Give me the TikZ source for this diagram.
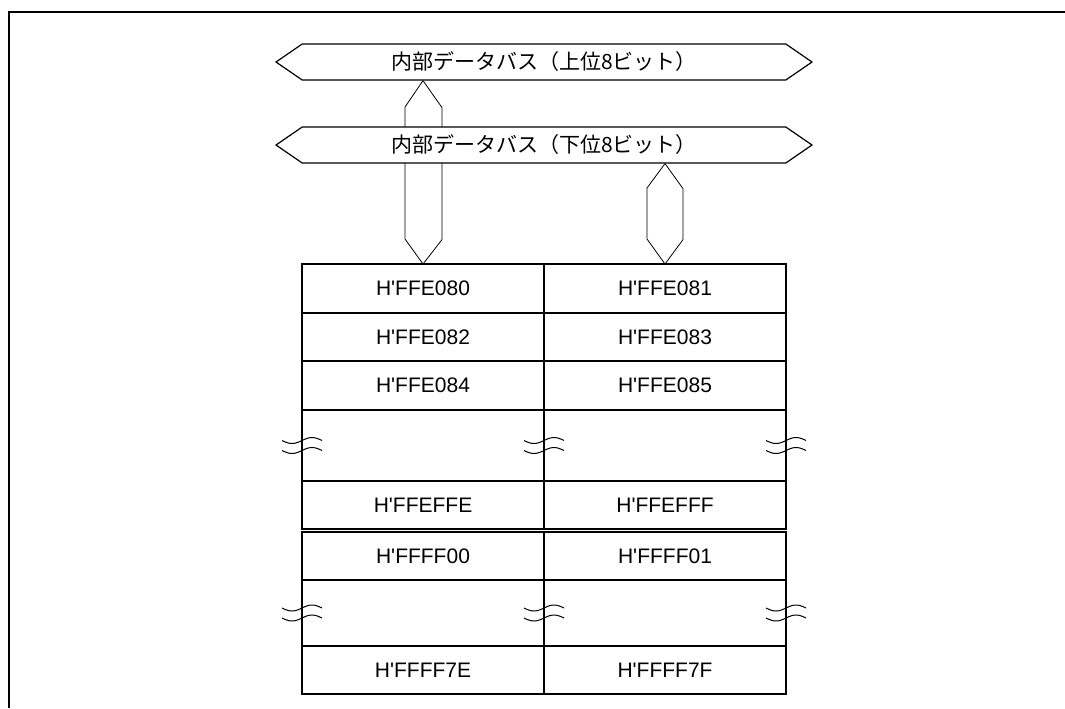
\documentclass[tikz,border=0pt]{standalone}
\usepackage{fontspec}
\newfontfamily\jpfont{Noto Sans CJK JP}
\newfontfamily\addrfont{Liberation Sans}
\usetikzlibrary{positioning,shapes.arrows,backgrounds}

\tikzset{
  bus/.style={draw,fill=white,double arrow,double arrow head extend=0pt,
    double arrow tip angle=69,minimum width=18pt,minimum height=268pt,inner sep=1pt,
    font=\jpfont\fontsize{10.5}{12}\selectfont},
  vbus/.style={draw,fill=white,line join=miter},
  cell/.style={draw,minimum width=121pt,minimum height=#1,inner sep=0pt,outer sep=0pt,
    font=\addrfont\fontsize{10.5}{12}\selectfont},
  wavebreak/.pic={
    \draw[line width=0.5pt] plot[domain=-20:20,samples=21,smooth] (\x,{-5-3*sin(9*\x)});
    \draw[line width=0.5pt] plot[domain=-20:20,samples=21,smooth] (\x,{5-3*sin(9*\x)});
  }
}

\begin{document}
\begin{tikzpicture}[x=0.5pt,y=-0.5pt,line width=0.6pt]
\useasboundingbox (0,0) rectangle (1065,708);
\draw[line width=0.8pt] (9,708) -- (9,12) -- (1065,12);
% internal buses
\node[bus] (ub) at (544,62) {内部データバス（上位8ビット）};
\node[bus] (lb) at (544,145) {内部データバス（下位8ビット）};
% first block
\node[cell=24.5pt,anchor=north west] (c80) at (302,264) {H'FFE080};
\node[cell=24.5pt,right=0pt of c80] (c81) {H'FFE081};
\node[cell=24pt,below=0pt of c80] (c82) {H'FFE082};
\node[cell=24pt,right=0pt of c82] (c83) {H'FFE083};
\node[cell=24.5pt,below=0pt of c82] (c84) {H'FFE084};
\node[cell=24.5pt,right=0pt of c84] (c85) {H'FFE085};
\node[cell=35.5pt,below=0pt of c84] (g1) {};
\node[cell=35.5pt,right=0pt of g1] (h1) {};
\node[cell=24pt,below=0pt of g1] (cfe) {H'FFEFFE};
\node[cell=24pt,right=0pt of cfe] (cff) {H'FFEFFF};
% second block
\node[cell=24pt,anchor=north west] (c00) at (302,532) {H'FFFF00};
\node[cell=24pt,right=0pt of c00] (c01) {H'FFFF01};
\node[cell=33pt,below=0pt of c00] (g2) {};
\node[cell=33pt,right=0pt of g2] (h2) {};
\node[cell=24pt,below=0pt of g2] (c7e) {H'FFFF7E};
\node[cell=24pt,right=0pt of c7e] (c7f) {H'FFFF7F};
% bus to memory
\begin{scope}[on background layer]
\draw[vbus] (ub.south -| c80.north) -- ++(19,27) -- ++(0,132) -- (c80.north)
  -- ++(-18,-25) -- ++(0,-132) -- cycle;
\draw[vbus] (lb.south -| c81.north) -- ++(18,25) -- ++(0,51) -- (c81.north)
  -- ++(-18,-25) -- ++(0,-51) -- cycle;
\end{scope}
% breaks
\pic at (g1.west) {wavebreak};
\pic at (g1.east) {wavebreak};
\pic at (h1.east) {wavebreak};
\pic at (g2.west) {wavebreak};
\pic at (g2.east) {wavebreak};
\pic at (h2.east) {wavebreak};
\end{tikzpicture}
\end{document}
